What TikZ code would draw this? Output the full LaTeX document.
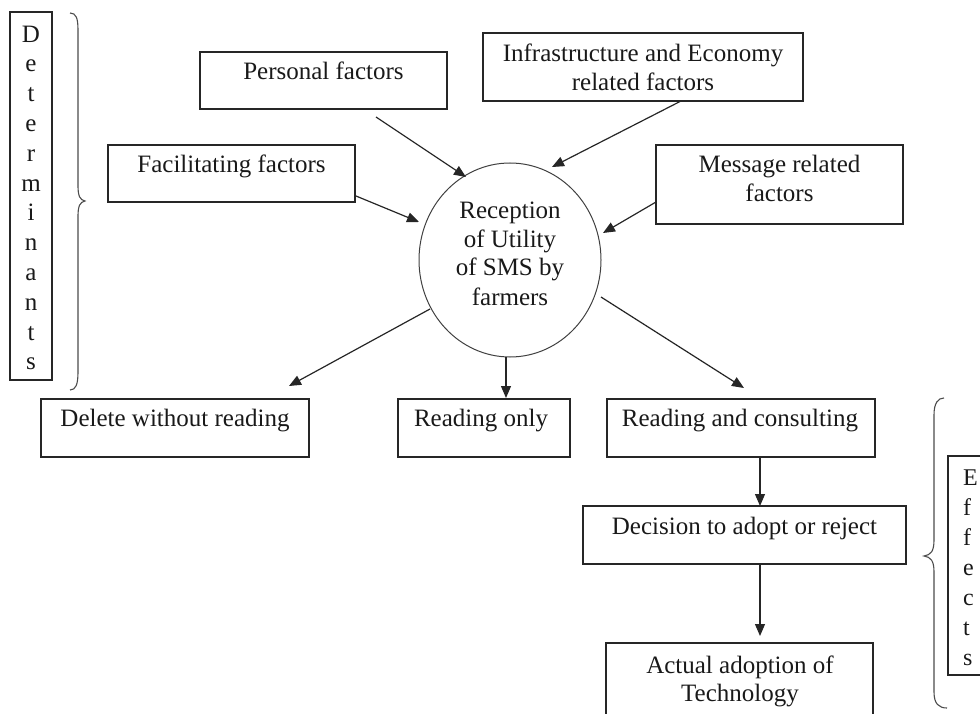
\documentclass[tikz,border=0pt]{standalone}
\usepackage{fontspec}
\setmainfont{Liberation Serif}
\usetikzlibrary{arrows.meta,shapes.geometric}
\begin{document}
\begin{tikzpicture}[x=1pt,y=-1pt,
  box/.style={draw=black!85, line width=1.1pt, inner sep=0pt, rectangle},
  % anchor=base sits on the baseline of the last line of a label
  lbl/.style={anchor=base, inner sep=0pt, align=center,
              font=\fontsize{25}{28.5}\selectfont, text=black!90},
  arr/.style={draw=black!85, line width=1.2pt, -{Triangle[length=12pt,width=10pt]}},
  brace/.style={draw=black!70, line width=1.1pt},
]
\useasboundingbox (0,0) rectangle (980,714);
\clip (0,0) rectangle (980,714);

% ---- determinants (top) ----
\node[box, minimum width=247pt, minimum height=57pt] (pf) at (323.5,80.5) {};
\node[lbl] (pft) at (323.5,80) {Personal factors};

\node[box, minimum width=320pt, minimum height=68pt] (ie) at (643,67) {};
\node[lbl] (iet) at (643,90.5) {Infrastructure and Economy\\related factors};

\node[box, minimum width=247pt, minimum height=57pt] (ff) at (231.5,173.5) {};
\node[lbl] (fft) at (231.5,173) {Facilitating factors};

\node[box, minimum width=247pt, minimum height=79pt] (mr) at (779.5,184.5) {};
\node[lbl] (mrt) at (779.5,201.5) {Message related\\factors};

% ---- central node ----
\node[draw=black!75, line width=1pt, ellipse, inner sep=0pt,
      minimum width=182pt, minimum height=194pt] (rcp) at (510,260) {};
\node[lbl, font=\fontsize{25}{29}\selectfont] (rcpt) at (510,305)
  {Reception\\of Utility\\of SMS by\\farmers};

% ---- responses ----
\node[box, minimum width=268pt, minimum height=58pt] (dw) at (175,428) {};
\node[lbl] (dwt) at (175,426) {Delete without reading};

\node[box, minimum width=172pt, minimum height=58pt] (ro) at (484,428) {};
\node[lbl] (rot) at (481,426) {Reading only};

\node[box, minimum width=268pt, minimum height=58pt] (rc) at (741,428) {};
\node[lbl] (rct) at (740,426) {Reading and consulting};

% ---- effects ----
\node[box, minimum width=323pt, minimum height=58pt] (dr) at (744.5,535) {};
\node[lbl] (drt) at (744.5,534) {Decision to adopt or reject};

\node[box, minimum width=267pt, minimum height=90pt] (aa) at (739.5,688) {};
\node[lbl] (aat) at (740,701.5) {Actual adoption of\\Technology};

% ---- side labels ----
\node[box, minimum width=42pt, minimum height=368pt] (detbox) at (31,196) {};
\node[lbl, font=\fontsize{25}{29.8}\selectfont] (dett) at (31,369.8)
  {D\\e\\t\\e\\r\\m\\i\\n\\a\\n\\t\\s};

\node[box, minimum width=50pt, minimum height=219pt] (effbox) at (973,565.5) {};
\node[lbl, align=left, anchor=base west, font=\fontsize{24}{30}\selectfont] (efft)
  at (963,665) {E\\f\\f\\e\\c\\t\\s};

% ---- braces ----
\draw[brace] (70,13) .. controls (76,13) and (78,18) .. (78,30) -- (78,186)
  .. controls (78,196) and (80,200) .. (85,201)
  .. controls (80,202) and (78,206) .. (78,216) -- (78,372)
  .. controls (78,384) and (76,390) .. (70,390);
\draw[brace] (944,398) .. controls (938,398) and (934,403) .. (934,415) -- (934,540)
  .. controls (934,551) and (931,555) .. (924,556)
  .. controls (931,557) and (934,561) .. (934,572) -- (934,692)
  .. controls (934,704) and (939,708) .. (947,708);

% ---- connector end points ----
\coordinate (pf-o) at (376,117);  \coordinate (pf-i) at (466,177);
\coordinate (ie-o) at (681,101);  \coordinate (ie-i) at (552,167);
\coordinate (ff-o) at (356,196);  \coordinate (ff-i) at (419,222);
\coordinate (mr-o) at (656,202);  \coordinate (mr-i) at (603,233);
\coordinate (dw-o) at (430,309);  \coordinate (dw-i) at (289,386);
\coordinate (ro-o) at (506,357);  \coordinate (ro-i) at (506,398);
\coordinate (rc-o) at (601,297);  \coordinate (rc-i) at (744,388);
\coordinate (dr-o) at (760,457);  \coordinate (dr-i) at (760,506);
\coordinate (aa-o) at (760,564);  \coordinate (aa-i) at (760,636);

\draw[arr] (pf-o) -- (pf-i);
\draw[arr] (ie-o) -- (ie-i);
\draw[arr] (ff-o) -- (ff-i);
\draw[arr] (mr-o) -- (mr-i);
\draw[arr] (dw-o) -- (dw-i);
\draw[arr] (ro-o) -- (ro-i);
\draw[arr] (rc-o) -- (rc-i);
\draw[arr] (dr-o) -- (dr-i);
\draw[arr] (aa-o) -- (aa-i);
\end{tikzpicture}
\end{document}
